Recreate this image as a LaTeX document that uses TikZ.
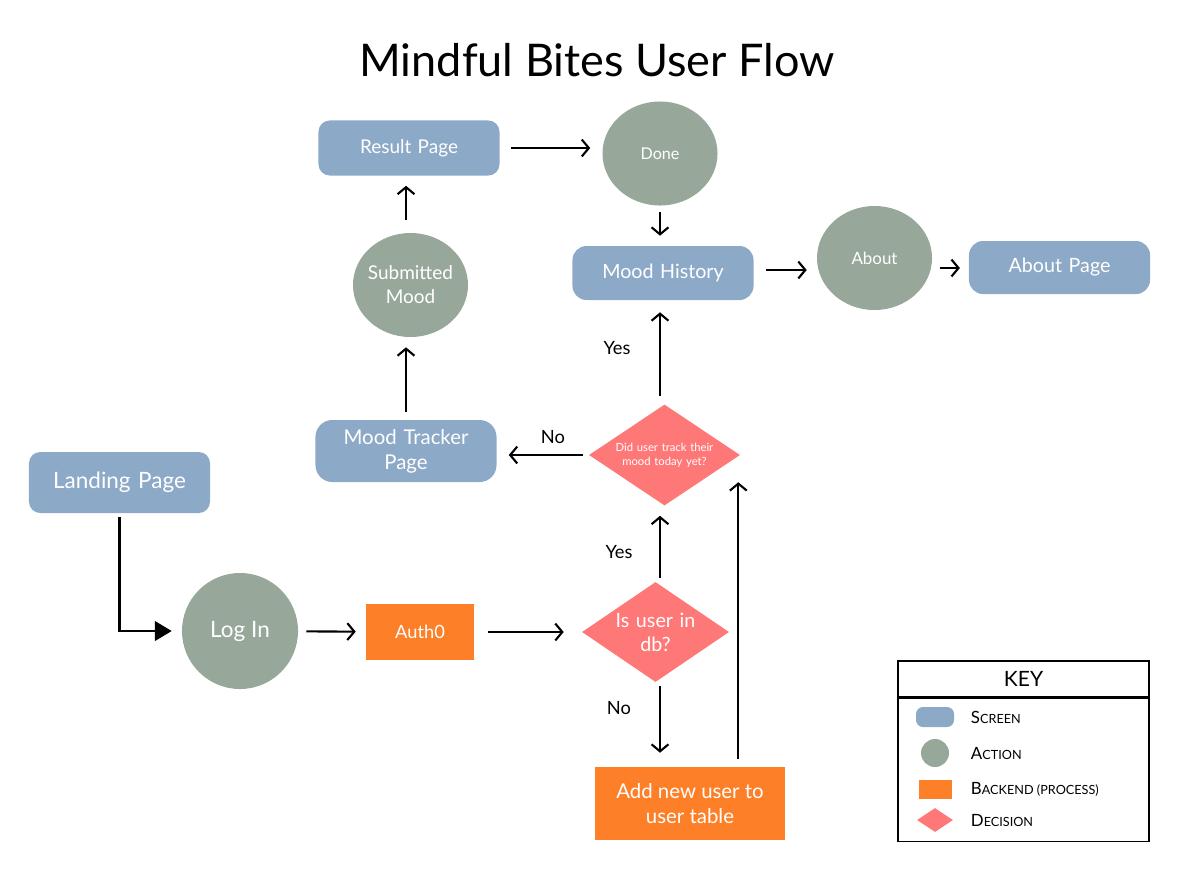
\documentclass[tikz,border=0pt]{standalone}
\usepackage{fontspec}
\setmainfont{Lato}
\usepackage{tikz}
\usetikzlibrary{shapes.geometric, arrows.meta, positioning, calc}
\definecolor{screenblue}{RGB}{141,169,200}
\definecolor{actiongray}{RGB}{151,168,154}
\definecolor{backorange}{RGB}{253,127,39}
\definecolor{decisionred}{RGB}{255,120,120}
\newcommand{\keysc}[2]{#1{\fontsize{9}{11}\selectfont #2}}
\tikzset{
  screennode/.style={fill=screenblue, rounded corners=8pt,
    minimum width=4.525cm, minimum height=1.4cm,
    text width=4.3cm, align=center, text=white, inner sep=0pt},
  actionnode/.style={ellipse, fill=actiongray, minimum width=2.875cm,
    minimum height=2.6cm, align=center, text=white,
    inner xsep=-5pt, inner ysep=0pt},
  backendnode/.style={fill=backorange, text=white, align=center,
    inner sep=0pt},
  decisionnode/.style={diamond, fill=decisionred, text=white,
    align=center, inner xsep=-8pt, inner ysep=0pt, shape aspect=1.5},
  edgelabel/.style={font=\fontsize{13}{15}\selectfont, text=black},
  flowarrow/.style={-{Straight Barb[length=5pt, width=12pt]},
    line width=1.5pt, shorten <=0.2cm, shorten >=0.25cm},
  startarrow/.style={-{Triangle[length=12pt, width=14pt]},
    line width=1.5pt, shorten <=0.1cm, shorten >=0.25cm},
  keyframe/.style={draw=black, line width=0.8pt, minimum width=6.275cm,
    inner sep=0pt},
  keylabel/.style={anchor=west, font=\fontsize{12}{14}\selectfont}
}

\begin{document}
\begin{tikzpicture}[x=0.025cm, y=-0.025cm]
  \useasboundingbox (0,0) rectangle (1200,876);

  \node[font=\fontsize{32}{38}\selectfont] (title) at (597,60) {Mindful Bites User Flow};
  \coordinate (spine) at (660,0);

  % screens
  \node[screennode, minimum height=1.525cm, font=\fontsize{16}{19}\selectfont]
      (landing) at (119.5,482.5) {Landing Page};
  \node[screennode, minimum height=1.55cm, rounded corners=12pt,
      font=\fontsize{14.5}{18}\selectfont] (tracker) at (406,451) {Mood Tracker\\Page};
  \node[screennode, minimum height=1.375cm, font=\fontsize{13.5}{16}\selectfont]
      (result) at (409,148) {Result Page};
  \node[screennode, minimum height=1.35cm, rounded corners=10pt,
      font=\fontsize{14}{16}\selectfont] (mhist) at (663,273) {Mood History};
  \node[screennode, minimum height=1.325cm, rounded corners=10pt,
      font=\fontsize{14}{16}\selectfont] (aboutpage) at (1059.5,267.5) {About Page};

  % actions
  \node[actionnode, minimum width=2.9cm, minimum height=2.9cm,
      font=\fontsize{16}{19}\selectfont] (login) at (240,631) {Log In};
  \node[actionnode, font=\fontsize{13.5}{17}\selectfont] (submitted) at (410.5,285) {Submitted\\Mood};
  \node[actionnode, font=\fontsize{11.5}{14}\selectfont] (done) at (660,153.5) {Done};
  \node[actionnode, font=\fontsize{12}{14}\selectfont] (about) at (874.5,258) {About};

  % backend
  \node[backendnode, minimum width=2.7cm, minimum height=1.4cm,
      font=\fontsize{13}{15}\selectfont] (auth) at (420,632) {Auth0};
  \node[backendnode, minimum width=4.75cm, minimum height=1.825cm,
      font=\fontsize{14.5}{18}\selectfont] (adduser) at (690,803.5) {Add new user to\\user table};

  % decisions
  \node[decisionnode, minimum width=3.675cm, minimum height=2.5cm,
      text width=2.4cm, font=\fontsize{14}{17}\selectfont] (indb) at (655.5,632) {Is user in\\db?};
  \node[decisionnode, minimum width=3.775cm, minimum height=2.525cm,
      text width=3.2cm, font=\fontsize{8}{10}\selectfont] (tracked) at (664.5,455)
      {Did user track their\\mood today yet?};

  % connectors
  \draw[startarrow] (landing.south) |- (login.west);
  \draw[flowarrow] (login) -- (auth);
  \draw[flowarrow, shorten <=0.33cm, shorten >=0.45cm] (auth) -- (auth -| indb.west);
  \draw[flowarrow, shorten <=0.1cm] (indb.north -| spine) -- (tracked.south -| spine);
  \draw[flowarrow, shorten <=0.1cm, shorten >=0.35cm] (indb.south -| spine) -- (adduser.north -| spine);
  \draw[flowarrow, shorten >=0.68cm] ($(adduser.north -| tracked.east)+(-2,0)$) -- ($(tracked.east)+(-2,0)$);
  \draw[flowarrow, shorten <=0.15cm, shorten >=0.3cm] (tracked.west) -- (tracked.west -| tracker.east);
  \draw[flowarrow, shorten >=0.3cm] (tracked.north -| spine) -- (mhist.south -| spine);
  \draw[flowarrow] (tracker.north -| tracker.center) -- (submitted.south -| tracker.center);
  \draw[flowarrow, shorten <=0.32cm] (submitted.north -| tracker.center) -- (result.south -| tracker.center);
  \draw[flowarrow, shorten <=0.28cm, shorten >=0.3cm] (result.east) -- (result.east -| done.west);
  \draw[flowarrow, shorten <=0.15cm] (done.south) -- (done.south |- mhist.north);
  \draw[flowarrow, shorten <=0.3cm] ($(mhist.east)+(0,-3)$) -- ($(mhist.east -| about.west)+(0,-3)$);
  \draw[flowarrow, shorten >=0.22cm] ($(about.east)+(0,10)$) -- ($(about.east -| aboutpage.west)+(0,10)$);

  % edge labels
  \node[edgelabel] (yesdb)   at (619,552) {Yes};
  \node[edgelabel] (nodb)    at (619,708) {No};
  \node[edgelabel] (notrack) at (553,437) {No};
  \node[edgelabel] (yestrack) at (617,348) {Yes};

  % key
  \node[keyframe, minimum height=0.9cm, font=\fontsize{15}{18}\selectfont] (keyhead) at (1023.5,679) {KEY};
  \node[keyframe, minimum height=3.575cm, below=0pt of keyhead] (keybody) {};
  \node[fill=screenblue, rounded corners=5pt, minimum width=0.95cm, minimum height=0.5cm] (keyscreen) at (935,717) {};
  \node[circle, fill=actiongray, minimum size=0.7cm, inner sep=0pt] (keyaction) at (935,753) {};
  \node[fill=backorange, minimum width=0.825cm, minimum height=0.475cm, inner sep=0pt] (keybackend) at (935,789) {};
  \node[diamond, fill=decisionred, minimum width=0.9cm, minimum height=0.6cm, inner sep=0pt] (keydecision) at (935,820) {};
  \node[keylabel] (keyscreentext)   at (966,717) {\keysc{S}{CREEN}};
  \node[keylabel] (keyactiontext)   at (966,753) {\keysc{A}{CTION}};
  \node[keylabel] (keybackendtext)  at (966,789) {\keysc{B}{ACKEND (PROCESS)}};
  \node[keylabel] (keydecisiontext) at (966,820) {\keysc{D}{ECISION}};

\end{tikzpicture}
\end{document}
